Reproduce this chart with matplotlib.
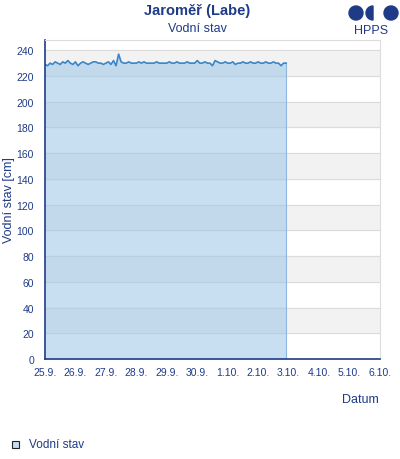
import matplotlib.pyplot as plt
from matplotlib.patches import Circle, Wedge, Rectangle
import datetime as dt

plt.rcParams['font.family'] = ['Liberation Sans', 'DejaVu Sans']

# 2-hourly water level, 25.9. 00:00 -> 2.10. 22:00
start = dt.datetime(2023, 9, 25)
levels = [
    229, 228, 230, 229, 231, 230, 229, 231, 230, 232, 230, 229,
    231, 228, 230, 231, 230, 229, 230, 231, 231, 230, 230, 229,
    230, 231, 229, 232, 228, 237, 231, 230, 230, 231, 230, 230,
    230, 231, 230, 231, 230, 230, 230, 230, 231, 230, 230, 230,
    230, 231, 230, 230, 231, 230, 230, 230, 231, 230, 230, 230,
    232, 230, 230, 231, 230, 230, 228, 232, 231, 230, 230, 231,
    230, 230, 231, 229, 230, 230, 231, 230, 230, 231, 230, 230,
    231, 230, 230, 231, 230, 230, 231, 230, 230, 228, 230, 230,
]
times = [start + dt.timedelta(hours=2 * i) for i in range(len(levels))]
tick_days = [start + dt.timedelta(days=d) for d in range(12)]
tick_labels = [f"{t.day}.{t.month}." for t in tick_days]
y_ticks = list(range(0, 241, 20))

navy = "#1f3b87"
fig = plt.figure(figsize=(4, 4.6), dpi=100)
ax = fig.add_axes([0.1125, 0.2174, 0.8375, 0.6935])

# alternating grey bands
for lo in range(0, 240, 40):
    ax.axhspan(lo + 20, lo + 40, color="#f2f2f2", zorder=0)
for y in y_ticks:
    ax.axhline(y, color="#dcdcdc", lw=0.8, zorder=0.5)

ax.fill_between(times, levels, 0, color="#9cc3e6", alpha=0.55, lw=0, zorder=1)
ax.plot([times[-1], times[-1]], [0, levels[-1]], color="#8fb6dc", lw=0.8, zorder=1.5)
ax.plot(times, levels, color="#3a86c6", lw=1.2, zorder=2)

ax.set_xlim(tick_days[0], tick_days[-1])
ax.set_ylim(0, 248)
ax.set_xticks(tick_days)
ax.set_xticklabels(tick_labels)
ax.set_yticks(y_ticks)
ax.tick_params(axis="both", labelsize=7.5, colors=navy, length=0)
ax.tick_params(axis="x", pad=6)
ax.tick_params(axis="y", pad=8)
for s in ("top", "right"):
    ax.spines[s].set_color("#dcdcdc")
for s in ("left", "bottom"):
    ax.spines[s].set_color(navy)
    ax.spines[s].set_linewidth(1.2)

ax.set_ylabel("Vodní stav [cm]", color=navy, fontsize=9, va="center")
ax.yaxis.set_label_coords(-0.107, 0.5)
fig.text(0.9, 1 - 400 / 460, "Datum", color=navy, fontsize=9, ha="center", va="center")

fig.text(0.4925, 1 - 11 / 460, "Jaroměř (Labe)", color=navy, fontsize=10.5,
         fontweight="bold", ha="center", va="center")
fig.text(0.4925, 1 - 29 / 460, "Vodní stav", color=navy, fontsize=9,
         ha="center", va="center")

# legend
fig.patches.append(Rectangle((12 / 400, 1 - 449 / 460), 7 / 400, 7 / 460,
                             transform=fig.transFigure, facecolor="#c5dcf0",
                             edgecolor="#222222", lw=0.8))
fig.text(29 / 400, 1 - 445 / 460, "Vodní stav", color=navy, fontsize=8.5, va="center")

# HPPS logo
lax = fig.add_axes([345 / 400, 1 - 42 / 460, 55 / 400, 42 / 460])
lax.set_xlim(0, 55)
lax.set_ylim(0, 42)
lax.set_aspect("equal")
lax.axis("off")
lax.add_patch(Circle((11, 28), 7, color=navy))
lax.add_patch(Wedge((28, 28), 7, 90, 270, color=navy))
lax.add_patch(Circle((46, 28), 7, color=navy))
lax.text(26, 11, "HPPS", color=navy, fontsize=9, ha="center", va="center")

fig.savefig("out.png", dpi=100)
